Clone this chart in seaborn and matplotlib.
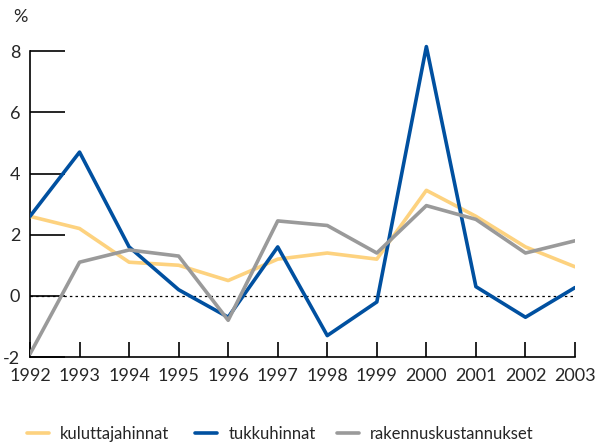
import matplotlib.pyplot as plt
import pandas as pd
import seaborn as sns

# data (annual change, %)
years = list(range(1992, 2004))
kuluttajahinnat = [2.6, 2.2, 1.1, 1.0, 0.5, 1.2, 1.4, 1.2, 3.45, 2.6, 1.6, 0.95]
tukkuhinnat = [2.6, 4.7, 1.6, 0.2, -0.7, 1.6, -1.3, -0.2, 8.15, 0.3, -0.7, 0.27]
rakennuskustannukset = [-1.9, 1.1, 1.5, 1.3, -0.8, 2.45, 2.3, 1.4, 2.95, 2.5, 1.4, 1.8]

names = ['kuluttajahinnat', 'tukkuhinnat', 'rakennuskustannukset']
colors = ['#fdd27f', '#0050a0', '#9a9a9a']

df = pd.DataFrame({'Year': years,
                   'kuluttajahinnat': kuluttajahinnat,
                   'tukkuhinnat': tukkuhinnat,
                   'rakennuskustannukset': rakennuskustannukset})
long_df = df.melt(id_vars='Year', var_name='sarja', value_name='arvo')

sns.set_style('white')
plt.rcParams['font.family'] = ['Lato', 'DejaVu Sans']

fig = plt.figure(figsize=(5.97, 4.45), dpi=100)
ax = fig.add_axes([30/597, 88/445, 545/597, 315/445])

# dotted zero line
ax.axhline(0, color='black', lw=0.9, ls=(0, (2, 2.5)), zorder=1)

sns.lineplot(data=long_df, x='Year', y='arvo', hue='sarja', hue_order=names,
             palette=colors, linewidth=2.6, ax=ax, legend=False, zorder=3)

ax.set_xlim(1992, 2003)
ax.set_ylim(-2, 8.3)
ax.set_xticks(years)
ax.set_yticks([-2, 0, 2, 4, 6, 8])
ax.set_yticklabels(['-2', '0', '2', '4', '6', '8'])
ax.set_xlabel('')
ax.set_ylabel('')

for s in ['top', 'right']:
    ax.spines[s].set_visible(False)
for s in ['left', 'bottom']:
    ax.spines[s].set_linewidth(1.2)
    ax.spines[s].set_color('black')
ax.spines['left'].set_bounds(-2, 8)

ax.tick_params(axis='y', left=True, direction='in', length=25, width=1.2,
               color='black', labelsize=13, pad=7)
ax.tick_params(axis='x', bottom=True, direction='in', length=11, width=1.2,
               color='black', labelsize=13, pad=8)

fig.text(13/597, 1 - 17/445, '%', fontsize=13, ha='left', va='center')

# legend at the bottom, one entry per series
legend_x = [27, 195, 337]
for name, c, lx in zip(names, colors, legend_x):
    h = plt.Line2D([0], [0], color=c, lw=2.6)
    fig.legend([h], [name], loc='center left',
               bbox_to_anchor=(lx/597, 1 - 434/445),
               frameon=False, fontsize=12, handlelength=1.3,
               handletextpad=0.7, borderpad=0, borderaxespad=0)

fig.savefig('out.png', dpi=100)
